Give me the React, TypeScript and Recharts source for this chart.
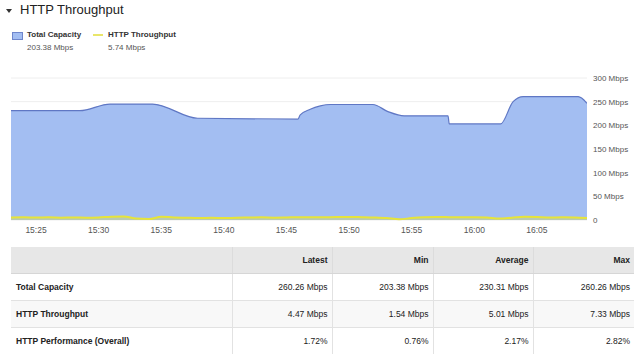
import React from 'react';
import { ComposedChart, Area, XAxis, YAxis, CartesianGrid } from 'recharts';

// Time in minutes since midnight (15:23 = 923)
const capacityTimes = [923, 928.5, 930.9, 934.3, 937.9, 945.9, 946.1, 946.9, 947.7, 948.5, 951.9, 953.1, 954.4, 957.9, 958.0, 962.1, 963.1, 963.9, 968.3, 969];
const capacityValues = [231, 231, 245, 245, 215, 213, 222, 234, 241, 244, 244, 229, 220, 220, 203, 203, 250, 260.5, 260.5, 246.5];

const throughputTimes = [923, 924, 925, 926, 927, 928, 929, 930, 931, 932, 933, 934, 935, 936, 937, 938, 939, 940, 941, 942, 943, 944, 945, 946, 947, 948, 949, 950, 951, 952, 953, 954, 955, 956, 957, 958, 959, 960, 961, 962, 963, 964, 965, 966, 967, 968, 969];
const throughputValues = [5.5, 5.8, 5.2, 5.6, 5.0, 5.4, 4.8, 5.3, 7.0, 7.3, 3.0, 2.0, 6.8, 5.5, 4.8, 4.2, 4.6, 4.0, 4.8, 5.2, 5.6, 5.0, 5.4, 6.0, 5.6, 5.8, 6.2, 6.4, 6.0, 5.4, 4.2, 1.54, 4.0, 5.6, 6.2, 6.0, 5.8, 6.0, 5.2, 3.0, 4.8, 6.8, 6.4, 5.2, 5.8, 5.4, 4.47];

const xTickValues = [925, 930, 935, 940, 945, 950, 955, 960, 965];
const xTickLabels = ['15:25', '15:30', '15:35', '15:40', '15:45', '15:50', '15:55', '16:00', '16:05'];
const yTickValues = [0, 50, 100, 150, 200, 250, 300];
const yTickLabels = ['0', '50 Mbps', '100 Mbps', '150 Mbps', '200 Mbps', '250 Mbps', '300 Mbps'];

const legendNames = ['Total Capacity', 'HTTP Throughput'];
const legendValues = ['203.38 Mbps', '5.74 Mbps'];

const tableHeaders = ['', 'Latest', 'Min', 'Average', 'Max'];
const tableRowNames = ['Total Capacity', 'HTTP Throughput', 'HTTP Performance (Overall)'];
const tableLatest = ['260.26 Mbps', '4.47 Mbps', '1.72%'];
const tableMin = ['203.38 Mbps', '1.54 Mbps', '0.76%'];
const tableAverage = ['230.31 Mbps', '5.01 Mbps', '2.17%'];
const tableMax = ['260.26 Mbps', '7.33 Mbps', '2.82%'];

const capacityData = capacityTimes.map((t, i) => ({ t, v: capacityValues[i] }));
const throughputData = throughputTimes.map((t, i) => ({ t, v: throughputValues[i] }));

const FONT = '"Liberation Sans", Arial, Helvetica, sans-serif';
const BLUE_FILL = '#a3bef2';
const BLUE_STROKE = '#5f77c4';
const YELLOW = '#e6e43a';

const YTick = (props: any) => {
  const { x, y, payload } = props;
  const label = yTickLabels[yTickValues.indexOf(payload.value)];
  return (
    <text x={x} y={y} dy="0.355em" textAnchor="start" fontSize={8} fill="#555" fontFamily={FONT}>{label}</text>
  );
};

const XTick = (props: any) => {
  const { x, y, payload } = props;
  const label = xTickLabels[xTickValues.indexOf(payload.value)];
  return (
    <text x={x} y={y} dy="0.71em" textAnchor="middle" fontSize={8.5} fill="#555" fontFamily={FONT}>{label}</text>
  );
};

export default function App() {
  const colWidths = [221, 100, 101, 100, 101];
  const rows = tableRowNames.map((name, i) => [name, tableLatest[i], tableMin[i], tableAverage[i], tableMax[i]]);
  return (
    <div style={{ position: 'absolute', left: 0, top: 0, width: 640, height: 354, overflow: 'hidden', background: '#fff', fontFamily: FONT }}>
      {/* Title */}
      <div style={{ position: 'absolute', left: 6, top: 9, width: 0, height: 0, borderLeft: '3.5px solid transparent', borderRight: '3.5px solid transparent', borderTop: '4.5px solid #333' }} />
      <div style={{ position: 'absolute', left: 20, top: 2, fontSize: 13, lineHeight: '15px', color: '#222' }}>HTTP Throughput</div>

      {/* Legend */}
      <div style={{ position: 'absolute', left: 12, top: 32, width: 9, height: 6, background: BLUE_FILL, border: '1px solid #6f86cc' }} />
      <div style={{ position: 'absolute', left: 27, top: 30, fontSize: 8, lineHeight: '10px', fontWeight: 'bold', color: '#333' }}>{legendNames[0]}</div>
      <div style={{ position: 'absolute', left: 27, top: 43, fontSize: 8, lineHeight: '10px', color: '#555' }}>{legendValues[0]}</div>
      <div style={{ position: 'absolute', left: 93, top: 34, width: 10, height: 2, background: '#e9e66a' }} />
      <div style={{ position: 'absolute', left: 108, top: 30, fontSize: 8, lineHeight: '10px', fontWeight: 'bold', color: '#333' }}>{legendNames[1]}</div>
      <div style={{ position: 'absolute', left: 108, top: 43, fontSize: 8, lineHeight: '10px', color: '#555' }}>{legendValues[1]}</div>

      {/* Chart */}
      <div style={{ position: 'absolute', left: 0, top: 60 }}>
        <ComposedChart width={640} height={180} margin={{ top: 18, right: 0, bottom: 0, left: 11 }}>
          <CartesianGrid vertical={false} stroke="#eeeeee" />
          <XAxis
            type="number"
            dataKey="t"
            domain={[923, 969]}
            ticks={xTickValues}
            interval={0}
            axisLine={false}
            tickLine={false}
            tickSize={0}
            tickMargin={7}
            height={20}
            tick={<XTick />}
            allowDataOverflow
          />
          <YAxis
            orientation="right"
            domain={[0, 300]}
            ticks={yTickValues}
            interval={0}
            axisLine={false}
            tickLine={false}
            tickSize={0}
            tickMargin={6}
            width={53}
            tick={<YTick />}
          />
          <Area data={capacityData} dataKey="v" type="monotone" stroke={BLUE_STROKE} strokeWidth={1.2} fill={BLUE_FILL} fillOpacity={1} dot={false} activeDot={false} isAnimationActive={false} />
          <Area data={throughputData} dataKey="v" type="monotone" stroke={YELLOW} strokeWidth={2} fill={YELLOW} fillOpacity={0.35} dot={false} activeDot={false} isAnimationActive={false} />
        </ComposedChart>
      </div>

      {/* Table */}
      <table style={{ position: 'absolute', left: 11, top: 247, width: 623, borderCollapse: 'collapse', tableLayout: 'fixed', fontSize: 8.5, color: '#222', fontFamily: FONT }}>
        <colgroup>
          {colWidths.map((w, i) => <col key={i} style={{ width: w }} />)}
        </colgroup>
        <thead>
          <tr style={{ height: 26, background: '#e7e7e7' }}>
            {tableHeaders.map((h, i) => (
              <th key={i} style={{ textAlign: 'right', paddingRight: 4, paddingLeft: 5, fontWeight: 'bold', borderLeft: i > 0 ? '1px solid #dcdcdc' : 'none', borderBottom: '1px solid #d6d6d6', boxSizing: 'border-box' }}>{h}</th>
            ))}
          </tr>
        </thead>
        <tbody>
          {rows.map((r, ri) => (
            <tr key={ri} style={{ height: 27, background: ri === 1 ? '#f8f8f8' : '#fff' }}>
              {r.map((c, ci) => (
                <td key={ci} style={{ textAlign: ci === 0 ? 'left' : 'right', fontWeight: ci === 0 ? 'bold' : 'normal', paddingLeft: 5, paddingRight: 4, borderLeft: ci > 0 ? '1px solid #e2e2e2' : 'none', borderBottom: '1px solid #e2e2e2', boxSizing: 'border-box' }}>{c}</td>
              ))}
            </tr>
          ))}
        </tbody>
      </table>
    </div>
  );
}
